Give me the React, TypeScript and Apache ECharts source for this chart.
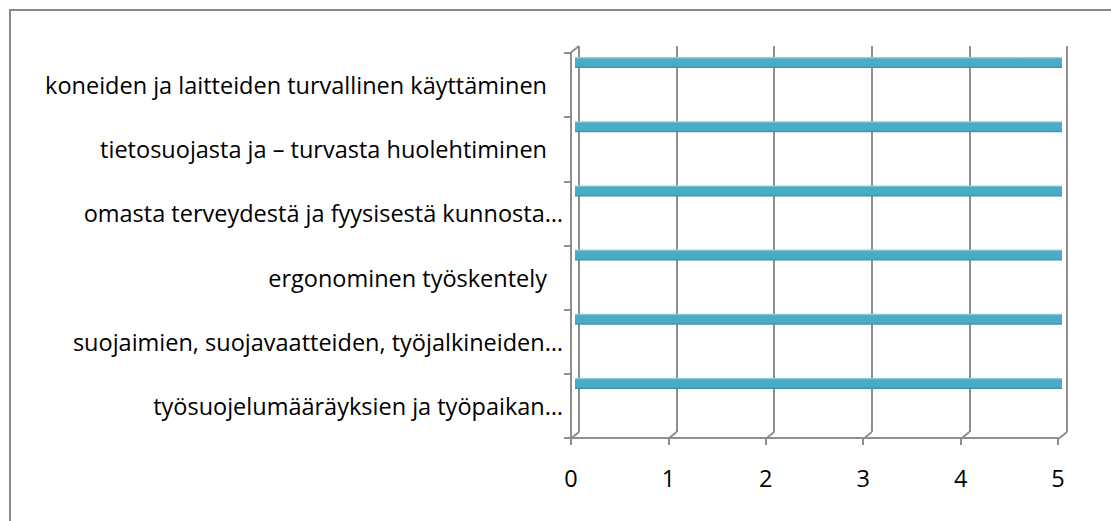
import React, { useEffect, useRef } from "react";
import * as echarts from "echarts";

const categories = [
  "koneiden ja laitteiden turvallinen käyttäminen",
  "tietosuojasta ja – turvasta huolehtiminen",
  "omasta terveydestä ja fyysisestä kunnosta…",
  "ergonominen työskentely",
  "suojaimien, suojavaatteiden, työjalkineiden…",
  "työsuojelumääräyksien ja työpaikan…",
];
const fullLabels = [
  "koneiden ja laitteiden turvallinen käyttäminen",
  "tietosuojasta ja – turvasta huolehtiminen",
  "ergonominen työskentely",
];
const values = [5, 5, 5, 5, 5, 5];
const tickValues = [0, 1, 2, 3, 4, 5];

const GRID_COLOR = "#8e8e8e";
const FONT = "Open Sans";
const FS = 23.5;

export default function App() {
  const ref = useRef<HTMLDivElement>(null);
  useEffect(() => {
    document.body.style.margin = "0";
    document.body.style.overflow = "hidden";
    const chart = echarts.init(ref.current!, undefined, { renderer: "svg" });
    const option: any = {
      animation: false,
      backgroundColor: "#ffffff",
      graphic: [
        {
          type: "rect",
          shape: { x: 10, y: 10, width: 1300, height: 800 },
          style: { fill: "none", stroke: "#8a8a8a", lineWidth: 2 },
          silent: true,
        },
      ],
      grid: [
        { left: 571, right: 53, top: 53, bottom: 83 },
        { left: 579, right: 44, top: 46, bottom: 89 },
        { left: 575, right: 49, top: 53, bottom: 83 },
      ],
      xAxis: [
        {
          gridIndex: 0,
          type: "value",
          min: 0,
          max: 5,
          interval: 1,
          axisLine: { show: true, lineStyle: { color: GRID_COLOR, width: 2 } },
          axisTick: { show: true, length: 7, lineStyle: { color: GRID_COLOR, width: 2 } },
          axisLabel: {
            margin: 28,
            fontFamily: FONT,
            fontSize: FS,
            color: "#000",
          },
          splitLine: { show: false },
        },
        {
          gridIndex: 1,
          type: "value",
          min: 0,
          max: 5,
          interval: 1,
          axisLine: { show: false },
          axisTick: { show: false },
          axisLabel: { show: false },
          splitLine: { show: true, lineStyle: { color: GRID_COLOR, width: 2 } },
        },
        {
          gridIndex: 2,
          type: "value",
          min: 0,
          max: 5,
          show: false,
        },
      ],
      yAxis: [
        {
          gridIndex: 0,
          type: "category",
          data: categories,
          inverse: true,
          axisLine: { show: true, lineStyle: { color: GRID_COLOR, width: 2 } },
          axisTick: { show: true, length: 7, alignWithLabel: false, lineStyle: { color: GRID_COLOR, width: 2 } },
          axisLabel: {
            margin: 8,
            fontFamily: FONT,
            fontSize: FS,
            color: "#000",
            formatter: (v: string) => (fullLabels.includes(v) ? `{f|${v}}` : `{t|${v}}`),
            rich: {
              f: { fontFamily: FONT, fontSize: FS, color: "#000", padding: [0, 16, 0, 0] },
              t: { fontFamily: FONT, fontSize: FS, color: "#000" },
            },
          },
        },
        {
          gridIndex: 1,
          type: "value",
          min: 0,
          max: 1,
          show: false,
        },
        {
          gridIndex: 2,
          type: "category",
          data: categories,
          inverse: true,
          show: false,
        },
      ],
      series: [
        {
          type: "bar",
          xAxisIndex: 2,
          yAxisIndex: 2,
          data: values,
          barWidth: 11,
          barGap: "309%",
          itemStyle: {
            color: new echarts.graphic.LinearGradient(0, 0, 0, 1, [
              { offset: 0, color: "#9fd6e6" },
              { offset: 0.18, color: "#4bacc6" },
              { offset: 0.8, color: "#4aabc5" },
              { offset: 1, color: "#3a8ea6" },
            ]),
          },
        },
        {
          type: "bar",
          xAxisIndex: 2,
          yAxisIndex: 2,
          data: values,
          barWidth: 11,
          itemStyle: { color: "rgba(0,0,0,0)" },
          silent: true,
        },
        {
          type: "custom",
          xAxisIndex: 1,
          yAxisIndex: 1,
          silent: true,
          data: [...tickValues.map((v) => [v, 0]), [0, 1]],
          renderItem: (params: any, api: any) => {
            const p = api.coord([api.value(0), api.value(1)]);
            return {
              type: "line",
              shape: { x1: p[0], y1: p[1], x2: p[0] - 8, y2: p[1] + 6.5 },
              style: { stroke: GRID_COLOR, lineWidth: 2 },
            };
          },
        },
      ],
    };
    chart.setOption(option);
    return () => chart.dispose();
  }, []);
  return <div ref={ref} style={{ width: 1111, height: 521 }} />;
}
